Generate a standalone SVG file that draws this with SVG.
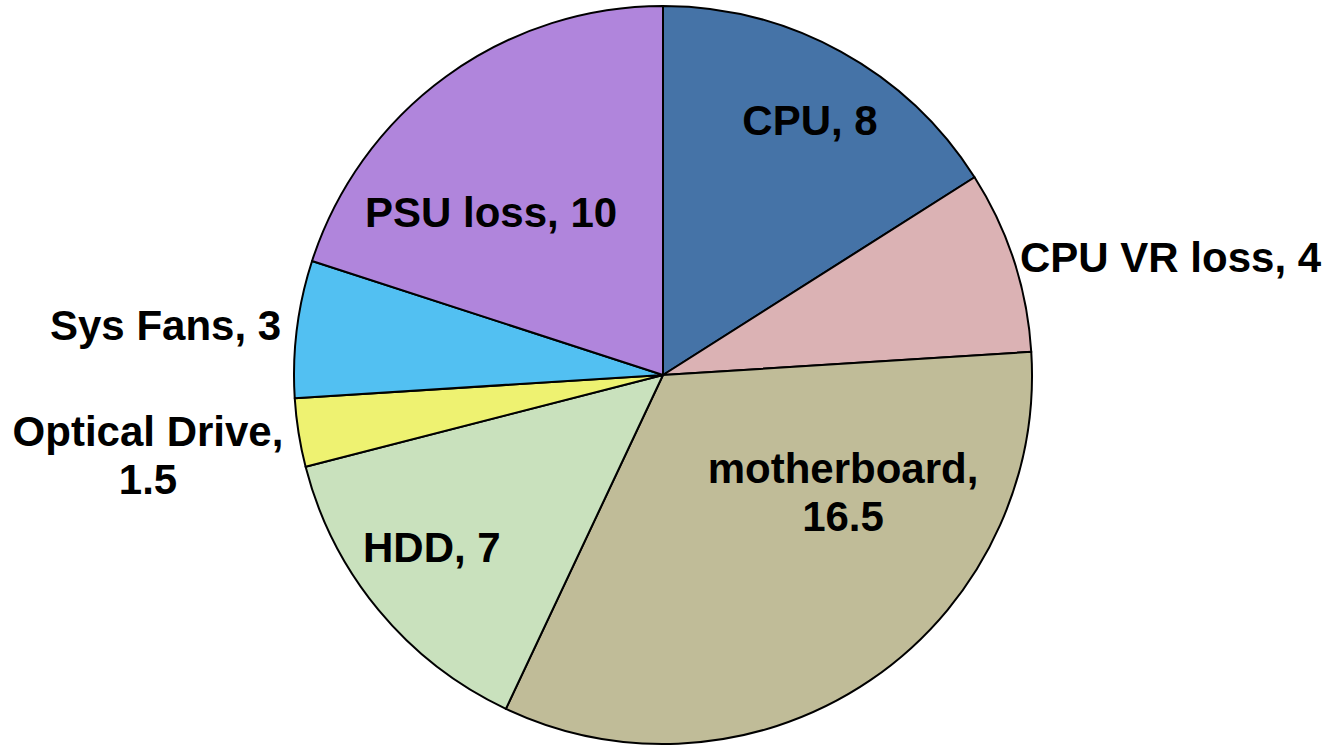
<svg xmlns="http://www.w3.org/2000/svg" width="1331" height="746" viewBox="0 0 1331 746">
<style>
.s{stroke:#000;stroke-width:2;stroke-linejoin:round}
text{font-family:"Liberation Sans",Arial,sans-serif;font-weight:bold;font-size:42px;fill:#000}
.m{text-anchor:middle}
</style>
<rect width="1331" height="746" fill="#fff"/>
<g id="cpu"><path class="s" fill="#4573A7" d="M663,375 L663,6 A369,369 0 0 1 974.56,177.28 Z"/><text class="m" x="810" y="135">CPU, 8</text></g>
<g id="cpuvr"><path class="s" fill="#DBB2B4" d="M663,375 L974.56,177.28 A369,369 0 0 1 1031.27,351.83 Z"/><text x="1020" y="272">CPU VR loss, 4</text></g>
<g id="motherboard"><path class="s" fill="#C0BC98" d="M663,375 L1031.27,351.83 A369,369 0 0 1 505.89,708.88 Z"/><text class="m" x="843" y="483">motherboard,</text><text class="m" x="843" y="531">16.5</text></g>
<g id="hdd"><path class="s" fill="#C9E1BD" d="M663,375 L505.89,708.88 A369,369 0 0 1 305.59,466.77 Z"/><text x="363" y="562">HDD, 7</text></g>
<g id="optical"><path class="s" fill="#EEF271" d="M663,375 L305.59,466.77 A369,369 0 0 1 294.73,398.17 Z"/><text class="m" x="148" y="446">Optical Drive,</text><text class="m" x="148" y="494">1.5</text></g>
<g id="fans"><path class="s" fill="#52C0F2" d="M663,375 L294.73,398.17 A369,369 0 0 1 312.06,260.97 Z"/><text x="50" y="340">Sys Fans, 3</text></g>
<g id="psu"><path class="s" fill="#B085DC" d="M663,375 L312.06,260.97 A369,369 0 0 1 663,6 Z"/><text x="365" y="227">PSU loss, 10</text></g>
<g id="connectors"></g>
</svg>
